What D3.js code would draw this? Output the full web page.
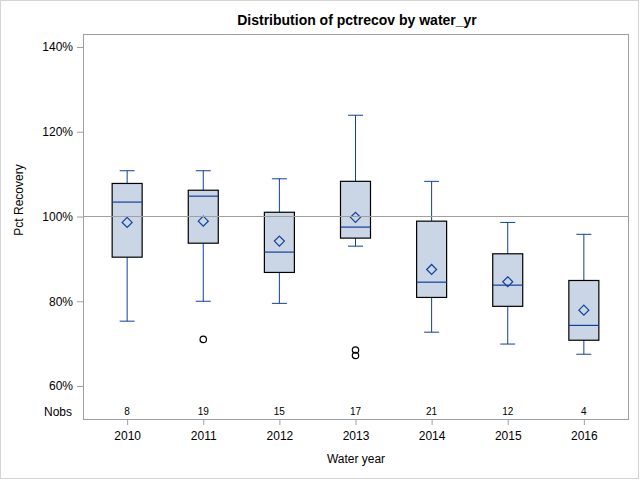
<!DOCTYPE html>
<html>
<head>
<meta charset="utf-8">
<script src="https://cdn.jsdelivr.net/npm/d3@7"></script>
<style>
  body { margin: 0; background: #fff; }
  svg { font-family: "Liberation Sans", Arial, sans-serif; }
</style>
</head>
<body>
<svg id="chart" width="640" height="480"></svg>
<script>
// values (percent)
var years = ["2010", "2011", "2012", "2013", "2014", "2015", "2016"];
var nobs = [8, 19, 15, 17, 21, 12, 4];
var whiskerLow = [75.3, 80.0, 79.5, 93.0, 72.7, 69.9, 67.5];
var q1 = [90.4, 93.7, 86.8, 94.9, 80.9, 78.8, 70.8];
var median = [103.4, 104.8, 91.6, 97.5, 84.5, 83.8, 74.3];
var q3 = [107.8, 106.2, 101.0, 108.3, 98.9, 91.2, 84.9];
var whiskerHigh = [110.8, 110.8, 108.9, 123.9, 108.3, 98.6, 95.8];
var means = [98.6, 98.9, 94.2, 99.8, 87.5, 84.6, 77.9];
var outliers = [[], [71.0], [], [68.5, 67.2], [], [], []];
var yTicks = [60, 80, 100, 120, 140];

var blue = "#10409c", fill = "#cad5e5", frameCol = "#9aa0a6";

var svg = d3.select("#chart");
var plotLeft = 83, plotRight = 628, plotTop = 34, plotBottom = 419;

// outer border
svg.append("rect").attr("x", 0.5).attr("y", 0.5).attr("width", 638).attr("height", 478)
  .attr("fill", "none").attr("stroke", "#d4d4d4");

var x = d3.scalePoint().domain(years).range([plotLeft, plotRight]).padding(0.58);
var y = d3.scaleLinear().domain([60, 140]).range([386, 47]);

svg.append("text").attr("x", 357).attr("y", 25).attr("text-anchor", "middle")
  .attr("font-size", 14).attr("font-weight", "bold").text("Distribution of pctrecov by water_yr");

// y axis
var yAxis = svg.append("g").attr("transform", "translate(" + plotLeft + ",0)")
  .call(d3.axisLeft(y).tickValues(yTicks).tickSize(6).tickPadding(4)
    .tickFormat(function(d) { return d + "%"; }));
yAxis.attr("font-family", null);
yAxis.select(".domain").remove();
yAxis.selectAll("line").attr("stroke", frameCol);
yAxis.selectAll("text").attr("font-size", 12).attr("fill", "#000");

// x axis
var xAxis = svg.append("g").attr("transform", "translate(0," + plotBottom + ")")
  .call(d3.axisBottom(x).tickSize(6).tickPadding(6));
xAxis.attr("font-family", null);
xAxis.select(".domain").remove();
xAxis.selectAll("line").attr("stroke", frameCol);
xAxis.selectAll("text").attr("font-size", 12).attr("fill", "#000");

svg.append("text").attr("x", 356).attr("y", 463).attr("text-anchor", "middle")
  .attr("font-size", 12).text("Water year");
svg.append("text").attr("transform", "translate(23,200) rotate(-90)").attr("text-anchor", "middle")
  .attr("font-size", 12).text("Pct Recovery");

// Nobs row
svg.append("text").attr("x", 72).attr("y", 416).attr("text-anchor", "end")
  .attr("font-size", 12).text("Nobs");
svg.selectAll(".nobs").data(years).enter().append("text")
  .attr("x", function(d) { return x(d); }).attr("y", 415)
  .attr("text-anchor", "middle").attr("font-size", 10)
  .text(function(d, i) { return nobs[i]; });

var boxW = 30, capW = 15;
var g = svg.selectAll(".box").data(years).enter().append("g")
  .attr("transform", function(d) { return "translate(" + x(d) + ",0)"; });

// whiskers
g.append("line").attr("y1", function(d, i) { return y(whiskerHigh[i]); })
  .attr("y2", function(d, i) { return y(q3[i]); }).attr("stroke", blue);
g.append("line").attr("y1", function(d, i) { return y(whiskerLow[i]); })
  .attr("y2", function(d, i) { return y(q1[i]); }).attr("stroke", blue);
g.append("line").attr("x1", -capW / 2).attr("x2", capW / 2)
  .attr("y1", function(d, i) { return y(whiskerHigh[i]); })
  .attr("y2", function(d, i) { return y(whiskerHigh[i]); }).attr("stroke", blue);
g.append("line").attr("x1", -capW / 2).attr("x2", capW / 2)
  .attr("y1", function(d, i) { return y(whiskerLow[i]); })
  .attr("y2", function(d, i) { return y(whiskerLow[i]); }).attr("stroke", blue);

// boxes
g.append("rect").attr("x", -boxW / 2).attr("width", boxW)
  .attr("y", function(d, i) { return y(q3[i]); })
  .attr("height", function(d, i) { return y(q1[i]) - y(q3[i]); })
  .attr("fill", fill).attr("stroke", "#000").attr("stroke-width", 1.2);

// reference line at 100%
svg.append("line").attr("x1", plotLeft).attr("x2", plotRight)
  .attr("y1", y(100)).attr("y2", y(100)).attr("stroke", "#a0a0a0");

// medians
g.append("line").attr("x1", -boxW / 2).attr("x2", boxW / 2)
  .attr("y1", function(d, i) { return y(median[i]); })
  .attr("y2", function(d, i) { return y(median[i]); }).attr("stroke", blue).attr("stroke-width", 1.2);

// means
g.append("path").attr("d", function(d, i) {
    var cy = y(means[i]), r = 5;
    return "M0," + (cy - r) + "L" + r + "," + cy + "L0," + (cy + r) + "L" + (-r) + "," + cy + "Z";
  }).attr("fill", "none").attr("stroke", blue).attr("stroke-width", 1.2);

// outliers
g.each(function(d, i) {
  d3.select(this).selectAll("circle").data(outliers[i]).enter().append("circle")
    .attr("cy", function(v) { return y(v); }).attr("r", 3.2)
    .attr("fill", "none").attr("stroke", "#000").attr("stroke-width", 1.2);
});

// frame
svg.append("rect").attr("x", plotLeft + 0.5).attr("y", plotTop + 0.5)
  .attr("width", plotRight - plotLeft).attr("height", plotBottom - plotTop)
  .attr("fill", "none").attr("stroke", frameCol);
</script>
</body>
</html>
